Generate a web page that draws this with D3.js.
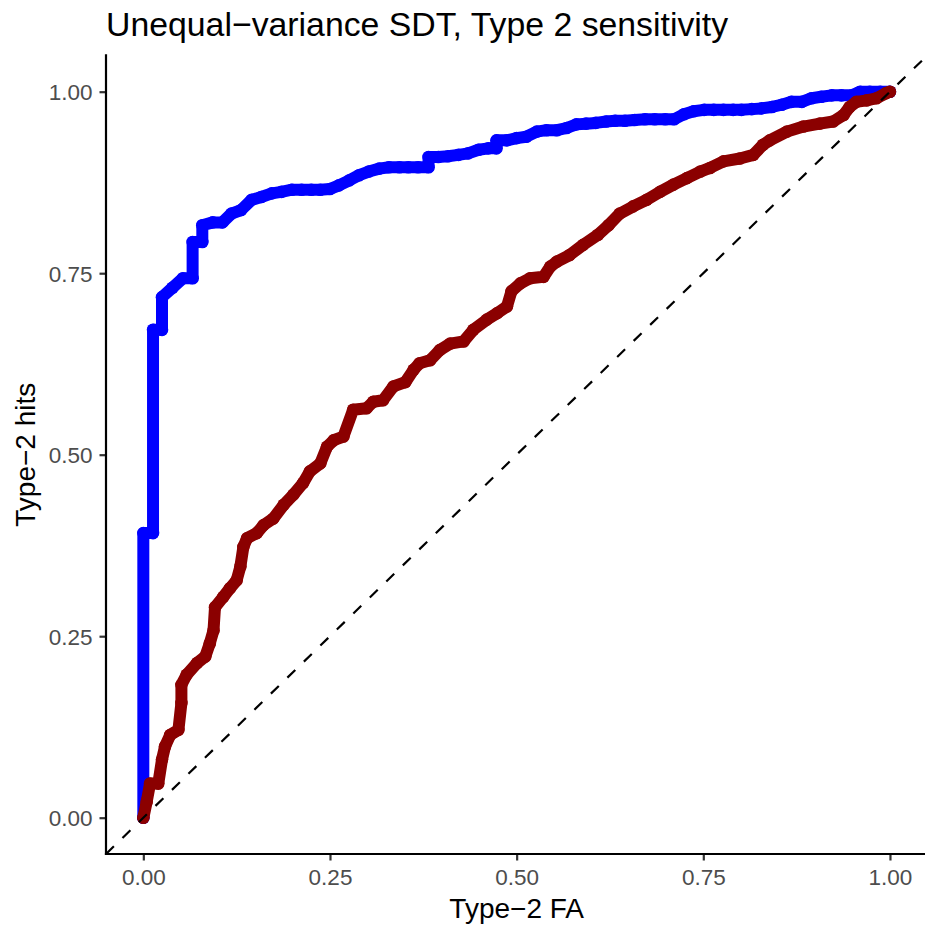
<!DOCTYPE html>
<html>
<head>
<meta charset="utf-8">
<script src="https://cdn.jsdelivr.net/npm/d3@7"></script>
<style>
  body { margin: 0; background: #fff; }
  text { font-family: "Liberation Sans", Arial, sans-serif; }
</style>
</head>
<body>
<div id="chart-container"></div>
<script>
/**************************************************
 * Data
 **************************************************/

// Blue curve: Type-2 FA / hits
const blueFA = [0, 0, 0.013, 0.013, 0.025, 0.025, 0.039, 0.053, 0.066, 0.066, 0.079, 0.079,
  0.093, 0.106, 0.118, 0.131, 0.145, 0.158, 0.172, 0.185, 0.199, 0.212, 0.225, 0.237, 0.25,
  0.262, 0.276, 0.289, 0.302, 0.316, 0.329, 0.343, 0.355, 0.368, 0.382, 0.382, 0.395, 0.408,
  0.422, 0.435, 0.449, 0.462, 0.473, 0.473, 0.487, 0.5, 0.513, 0.527, 0.54, 0.554, 0.567,
  0.58, 0.593, 0.606, 0.62, 0.632, 0.645, 0.658, 0.672, 0.685, 0.699, 0.711, 0.724, 0.737,
  0.751, 0.764, 0.777, 0.79, 0.801, 0.815, 0.828, 0.842, 0.855, 0.868, 0.882, 0.895, 0.908,
  0.922, 0.935, 0.949, 0.96, 0.973, 0.987, 1];
const blueHits = [0, 0.392, 0.392, 0.672, 0.672, 0.717, 0.73, 0.743, 0.743, 0.793, 0.793, 0.816,
  0.82, 0.82, 0.832, 0.837, 0.851, 0.855, 0.86, 0.862, 0.865, 0.865, 0.865, 0.865, 0.866,
  0.871, 0.878, 0.885, 0.89, 0.894, 0.896, 0.896, 0.896, 0.896, 0.896, 0.91, 0.91, 0.911,
  0.913, 0.915, 0.92, 0.922, 0.922, 0.933, 0.933, 0.936, 0.938, 0.945, 0.947, 0.947, 0.95,
  0.955, 0.956, 0.957, 0.959, 0.96, 0.96, 0.961, 0.962, 0.962, 0.962, 0.962, 0.969, 0.973,
  0.975, 0.975, 0.975, 0.975, 0.975, 0.976, 0.977, 0.979, 0.982, 0.986, 0.986, 0.991, 0.993,
  0.995, 0.995, 0.995, 1, 1, 1, 1];

// Dark red curve
const redFA = [0, 0.0045, 0.009, 0.02, 0.025, 0.029, 0.036, 0.047, 0.051, 0.051, 0.058, 0.072,
  0.083, 0.089, 0.094, 0.096, 0.107, 0.116, 0.125, 0.13, 0.134, 0.139, 0.152, 0.161, 0.174,
  0.188, 0.201, 0.214, 0.223, 0.237, 0.246, 0.255, 0.268, 0.281, 0.299, 0.308, 0.321, 0.335,
  0.351, 0.362, 0.37, 0.384, 0.397, 0.411, 0.429, 0.442, 0.46, 0.474, 0.487, 0.493, 0.505,
  0.518, 0.536, 0.545, 0.554, 0.571, 0.589, 0.609, 0.623, 0.638, 0.656, 0.674, 0.692, 0.71,
  0.728, 0.746, 0.759, 0.777, 0.799, 0.817, 0.83, 0.839, 0.862, 0.884, 0.906, 0.924, 0.938,
  0.946, 0.955, 0.969, 0.982, 0.995, 1];
const redHits = [0, 0.022, 0.047, 0.047, 0.08, 0.098, 0.114, 0.121, 0.158, 0.183, 0.197, 0.213,
  0.222, 0.24, 0.258, 0.29, 0.304, 0.316, 0.327, 0.346, 0.373, 0.385, 0.392, 0.403, 0.412,
  0.431, 0.445, 0.461, 0.477, 0.488, 0.511, 0.52, 0.525, 0.562, 0.564, 0.573, 0.575, 0.594,
  0.6, 0.617, 0.626, 0.63, 0.644, 0.653, 0.656, 0.672, 0.686, 0.695, 0.704, 0.725, 0.736,
  0.743, 0.745, 0.759, 0.766, 0.775, 0.789, 0.803, 0.816, 0.832, 0.842, 0.851, 0.862, 0.872,
  0.881, 0.89, 0.895, 0.904, 0.908, 0.913, 0.927, 0.933, 0.945, 0.952, 0.956, 0.959, 0.968,
  0.979, 0.986, 0.988, 0.991, 0.998, 1];

const tickValues = [0, 0.25, 0.5, 0.75, 1];
const tickLabels = ["0.00", "0.25", "0.50", "0.75", "1.00"];

/**************************************************
 * Rendering
 **************************************************/

function renderChart() {
  const width = 925, height = 930;
  const svg = d3.select("#chart-container")
    .append("svg")
    .attr("width", width)
    .attr("height", height);

  // ggplot-style expanded limits
  const xScale = d3.scaleLinear().domain([-0.05, 1.05]).range([106.0, 927.3]);
  const yScale = d3.scaleLinear().domain([-0.05, 1.05]).range([854.0, 55.4]);

  const left = xScale(-0.05), right = xScale(1.05);
  const top = yScale(1.05), bottom = yScale(-0.05);

  svg.append("defs").append("clipPath")
    .attr("id", "panel")
    .append("rect")
    .attr("x", left).attr("y", top)
    .attr("width", right - left).attr("height", bottom - top);

  const plot = svg.append("g").attr("clip-path", "url(#panel)");

  const lineGenerator = d3.line()
    .x(d => xScale(d[0]))
    .y(d => yScale(d[1]));

  const series = [
    { fa: blueFA, hits: blueHits, color: "#0000FF" },
    { fa: redFA, hits: redHits, color: "#8B0000" }
  ];

  series.forEach(s => {
    const pts = s.fa.map((x, i) => [x, s.hits[i]]);
    plot.append("path")
      .datum(pts)
      .attr("d", lineGenerator)
      .attr("fill", "none")
      .attr("stroke", s.color)
      .attr("stroke-width", 12)
      .attr("stroke-linecap", "round")
      .attr("stroke-linejoin", "round");
    plot.selectAll(null)
      .data(pts)
      .enter()
      .append("circle")
      .attr("cx", d => xScale(d[0]))
      .attr("cy", d => yScale(d[1]))
      .attr("r", 6.3)
      .attr("fill", s.color);
  });

  // dashed identity line
  plot.append("line")
    .attr("x1", xScale(-0.05)).attr("y1", yScale(-0.05))
    .attr("x2", xScale(1.05)).attr("y2", yScale(1.05))
    .attr("stroke", "#000")
    .attr("stroke-width", 2.2)
    .attr("stroke-dasharray", "11,12");

  // Axes
  const xAxis = d3.axisBottom(xScale)
    .tickValues(tickValues)
    .tickFormat((d, i) => tickLabels[i])
    .tickSize(6.5)
    .tickPadding(6);
  const yAxis = d3.axisLeft(yScale)
    .tickValues(tickValues)
    .tickFormat((d, i) => tickLabels[i])
    .tickSize(6.5)
    .tickPadding(6);

  const gx = svg.append("g")
    .attr("transform", `translate(0,${bottom})`)
    .call(xAxis);
  const gy = svg.append("g")
    .attr("transform", `translate(${left},0)`)
    .call(yAxis);

  [gx, gy].forEach(g => {
    g.select(".domain").remove();
    g.selectAll(".tick line").attr("stroke", "#333333").attr("stroke-width", 2.2);
    g.selectAll(".tick text")
      .attr("fill", "#4D4D4D")
      .attr("font-size", "22.5px")
      .attr("font-family", "Liberation Sans, Arial, sans-serif");
  });
  gx.selectAll(".tick text").attr("dy", null).attr("y", 30.5);
  gy.selectAll(".tick text").attr("dy", "0.36em").attr("x", -13.5);

  // axis lines
  svg.append("line")
    .attr("x1", left).attr("y1", bottom).attr("x2", right).attr("y2", bottom)
    .attr("stroke", "#000").attr("stroke-width", 2.2).attr("stroke-linecap", "square");
  svg.append("line")
    .attr("x1", left).attr("y1", top).attr("x2", left).attr("y2", bottom)
    .attr("stroke", "#000").attr("stroke-width", 2.2).attr("stroke-linecap", "square");

  // Titles
  svg.append("text")
    .attr("x", (left + right) / 2)
    .attr("y", 918)
    .attr("text-anchor", "middle")
    .attr("font-size", "28px")
    .attr("fill", "#000")
    .text("Type\u22122 FA");

  svg.append("text")
    .attr("transform", `translate(35,${(top + bottom) / 2}) rotate(-90)`)
    .attr("text-anchor", "middle")
    .attr("font-size", "28px")
    .attr("fill", "#000")
    .text("Type\u22122 hits");

  svg.append("text")
    .attr("x", left)
    .attr("y", 36)
    .attr("font-size", "33.8px")
    .attr("fill", "#000")
    .text("Unequal\u2212variance SDT, Type 2 sensitivity");
}

renderChart();
</script>
</body>
</html>
